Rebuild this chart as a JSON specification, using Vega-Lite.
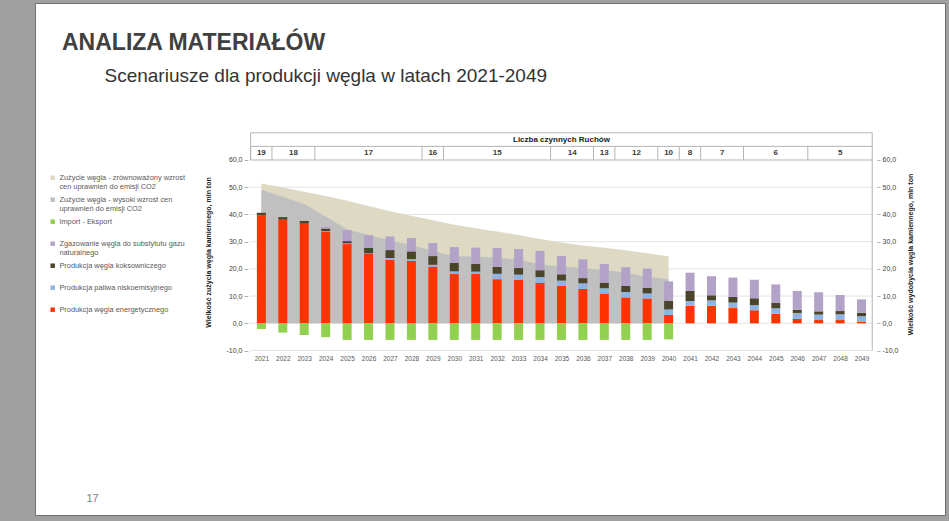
{
  "$schema": "https://vega.github.io/schema/vega-lite/v6.json",
  "width": 910,
  "height": 512,
  "autosize": {"type": "none"},
  "padding": {"left": 35, "top": 3, "right": 4, "bottom": 6},
  "background": "#a0a0a0",
  "config": {
    "font": "Liberation Sans",
    "locale": {"number": {"decimal": ",", "thousands": " ", "grouping": [3], "currency": ["", " zł"], "minus": "-"}},
    "view": {"fill": "white", "stroke": "#6e6e6e", "strokeWidth": 1}
  },
  "title": {
    "text": "ANALIZA MATERIAŁÓW",
    "anchor": "start",
    "frame": "group",
    "dx": 27,
    "offset": -52,
    "fontSize": 23,
    "fontWeight": "bold",
    "color": "#404040",
    "font": "Liberation Sans"
  },
  "datasets": {
    "lata": [
      {"rok": 2021, "ruchy": 19, "1_energetyczny": 39.7, "2_niskoemisyjny": 0.0, "3_koksowniczy": 0.9, "4_zgazowanie": 0.0, "5_import_eksport": -2.1, "6_zuzycie_wysoki": 49.1, "7_zuzycie_zrownowazony": 51.4},
      {"rok": 2022, "ruchy": 18, "1_energetyczny": 38.1, "2_niskoemisyjny": 0.0, "3_koksowniczy": 0.9, "4_zgazowanie": 0.0, "5_import_eksport": -3.4, "6_zuzycie_wysoki": 46.5, "7_zuzycie_zrownowazony": 49.9},
      {"rok": 2023, "ruchy": 18, "1_energetyczny": 36.6, "2_niskoemisyjny": 0.0, "3_koksowniczy": 1.0, "4_zgazowanie": 0.0, "5_import_eksport": -4.3, "6_zuzycie_wysoki": 43.8, "7_zuzycie_zrownowazony": 48.3},
      {"rok": 2024, "ruchy": 17, "1_energetyczny": 33.7, "2_niskoemisyjny": 0.2, "3_koksowniczy": 0.9, "4_zgazowanie": 0.6, "5_import_eksport": -5.1, "6_zuzycie_wysoki": 39.2, "7_zuzycie_zrownowazony": 46.8},
      {"rok": 2025, "ruchy": 17, "1_energetyczny": 29.1, "2_niskoemisyjny": 0.3, "3_koksowniczy": 0.8, "4_zgazowanie": 4.1, "5_import_eksport": -6.1, "6_zuzycie_wysoki": 34.5, "7_zuzycie_zrownowazony": 45.0},
      {"rok": 2026, "ruchy": 17, "1_energetyczny": 25.5, "2_niskoemisyjny": 0.2, "3_koksowniczy": 2.0, "4_zgazowanie": 4.7, "5_import_eksport": -6.1, "6_zuzycie_wysoki": 32.4, "7_zuzycie_zrownowazony": 43.1},
      {"rok": 2027, "ruchy": 17, "1_energetyczny": 23.3, "2_niskoemisyjny": 0.7, "3_koksowniczy": 2.9, "4_zgazowanie": 5.0, "5_import_eksport": -6.1, "6_zuzycie_wysoki": 30.5, "7_zuzycie_zrownowazony": 41.2},
      {"rok": 2028, "ruchy": 17, "1_energetyczny": 22.9, "2_niskoemisyjny": 0.7, "3_koksowniczy": 2.8, "4_zgazowanie": 4.9, "5_import_eksport": -6.1, "6_zuzycie_wysoki": 28.8, "7_zuzycie_zrownowazony": 39.5},
      {"rok": 2029, "ruchy": 16, "1_energetyczny": 20.8, "2_niskoemisyjny": 0.7, "3_koksowniczy": 3.2, "4_zgazowanie": 4.8, "5_import_eksport": -6.1, "6_zuzycie_wysoki": 26.6, "7_zuzycie_zrownowazony": 37.9},
      {"rok": 2030, "ruchy": 15, "1_energetyczny": 18.1, "2_niskoemisyjny": 1.0, "3_koksowniczy": 3.1, "4_zgazowanie": 5.8, "5_import_eksport": -6.1, "6_zuzycie_wysoki": 24.6, "7_zuzycie_zrownowazony": 36.2},
      {"rok": 2031, "ruchy": 15, "1_energetyczny": 18.1, "2_niskoemisyjny": 0.9, "3_koksowniczy": 2.8, "4_zgazowanie": 6.0, "5_import_eksport": -6.1, "6_zuzycie_wysoki": 24.5, "7_zuzycie_zrownowazony": 34.9},
      {"rok": 2032, "ruchy": 15, "1_energetyczny": 16.2, "2_niskoemisyjny": 2.0, "3_koksowniczy": 2.5, "4_zgazowanie": 7.0, "5_import_eksport": -6.1, "6_zuzycie_wysoki": 24.1, "7_zuzycie_zrownowazony": 33.7},
      {"rok": 2033, "ruchy": 15, "1_energetyczny": 15.9, "2_niskoemisyjny": 2.0, "3_koksowniczy": 2.4, "4_zgazowanie": 7.0, "5_import_eksport": -6.1, "6_zuzycie_wysoki": 23.4, "7_zuzycie_zrownowazony": 32.4},
      {"rok": 2034, "ruchy": 15, "1_energetyczny": 14.9, "2_niskoemisyjny": 2.1, "3_koksowniczy": 2.5, "4_zgazowanie": 7.1, "5_import_eksport": -6.1, "6_zuzycie_wysoki": 21.6, "7_zuzycie_zrownowazony": 31.0},
      {"rok": 2035, "ruchy": 14, "1_energetyczny": 13.7, "2_niskoemisyjny": 2.0, "3_koksowniczy": 2.3, "4_zgazowanie": 6.7, "5_import_eksport": -6.1, "6_zuzycie_wysoki": 21.0, "7_zuzycie_zrownowazony": 29.7},
      {"rok": 2036, "ruchy": 14, "1_energetyczny": 12.6, "2_niskoemisyjny": 2.1, "3_koksowniczy": 1.9, "4_zgazowanie": 6.9, "5_import_eksport": -6.1, "6_zuzycie_wysoki": 20.3, "7_zuzycie_zrownowazony": 28.6},
      {"rok": 2037, "ruchy": 13, "1_energetyczny": 10.9, "2_niskoemisyjny": 2.0, "3_koksowniczy": 2.0, "4_zgazowanie": 6.9, "5_import_eksport": -6.1, "6_zuzycie_wysoki": 19.6, "7_zuzycie_zrownowazony": 27.8},
      {"rok": 2038, "ruchy": 12, "1_energetyczny": 9.5, "2_niskoemisyjny": 2.0, "3_koksowniczy": 2.2, "4_zgazowanie": 6.9, "5_import_eksport": -6.1, "6_zuzycie_wysoki": 18.7, "7_zuzycie_zrownowazony": 26.8},
      {"rok": 2039, "ruchy": 12, "1_energetyczny": 9.1, "2_niskoemisyjny": 1.9, "3_koksowniczy": 2.0, "4_zgazowanie": 7.1, "5_import_eksport": -6.1, "6_zuzycie_wysoki": 17.1, "7_zuzycie_zrownowazony": 25.7},
      {"rok": 2040, "ruchy": 10, "1_energetyczny": 3.1, "2_niskoemisyjny": 2.0, "3_koksowniczy": 3.2, "4_zgazowanie": 7.1, "5_import_eksport": -5.9, "6_zuzycie_wysoki": 16.2, "7_zuzycie_zrownowazony": 24.6},
      {"rok": 2041, "ruchy": 8, "1_energetyczny": 6.4, "2_niskoemisyjny": 1.8, "3_koksowniczy": 3.7, "4_zgazowanie": 6.7},
      {"rok": 2042, "ruchy": 7, "1_energetyczny": 6.5, "2_niskoemisyjny": 1.9, "3_koksowniczy": 1.9, "4_zgazowanie": 7.0},
      {"rok": 2043, "ruchy": 7, "1_energetyczny": 5.6, "2_niskoemisyjny": 2.0, "3_koksowniczy": 2.1, "4_zgazowanie": 7.1},
      {"rok": 2044, "ruchy": 6, "1_energetyczny": 4.8, "2_niskoemisyjny": 1.9, "3_koksowniczy": 2.5, "4_zgazowanie": 6.8},
      {"rok": 2045, "ruchy": 6, "1_energetyczny": 3.5, "2_niskoemisyjny": 2.0, "3_koksowniczy": 2.0, "4_zgazowanie": 6.8},
      {"rok": 2046, "ruchy": 6, "1_energetyczny": 1.6, "2_niskoemisyjny": 2.2, "3_koksowniczy": 1.2, "4_zgazowanie": 6.9},
      {"rok": 2047, "ruchy": 5, "1_energetyczny": 1.2, "2_niskoemisyjny": 2.0, "3_koksowniczy": 1.2, "4_zgazowanie": 7.0},
      {"rok": 2048, "ruchy": 5, "1_energetyczny": 1.2, "2_niskoemisyjny": 2.1, "3_koksowniczy": 1.2, "4_zgazowanie": 5.9},
      {"rok": 2049, "ruchy": 5, "1_energetyczny": 0.5, "2_niskoemisyjny": 2.1, "3_koksowniczy": 1.3, "4_zgazowanie": 4.9}
    ],
    "siatka": [{"poziom": -10}, {"poziom": 0}, {"poziom": 10}, {"poziom": 20}, {"poziom": 30}, {"poziom": 40}, {"poziom": 50}],
    "naglowek": [{"poziom": 60}, {"poziom": 65}, {"poziom": 70}]
  },
  "layer": [
    {
      "data": {"name": "siatka"},
      "mark": {"type": "rule", "color": "#e3e3e3", "strokeWidth": 1},
      "encoding": {
        "x": {"datum": 2020.5, "axis": null},
        "x2": {"datum": 2049.5},
        "y": {"field": "poziom", "type": "quantitative", "axis": null}
      }
    },
    {
      "data": {"name": "lata"},
      "transform": [
        {"fold": ["7_zuzycie_zrownowazony"], "as": ["seria", "mln_t"]},
        {"filter": "isValid(datum.mln_t)"}
      ],
      "mark": {"type": "area", "opacity": 1},
      "encoding": {
        "x": {
          "field": "rok", "type": "quantitative",
          "scale": {"domain": [2010.672, 2052.661], "nice": false, "zero": false},
          "axis": {
            "orient": "bottom", "offset": -164,
            "values": [2021, 2022, 2023, 2024, 2025, 2026, 2027, 2028, 2029, 2030, 2031, 2032, 2033, 2034, 2035, 2036, 2037, 2038, 2039, 2040, 2041, 2042, 2043, 2044, 2045, 2046, 2047, 2048, 2049],
            "format": "d", "labelOverlap": false, "labelFlush": false,
            "labelFontSize": 6.5, "labelColor": "#595959", "labelPadding": 4,
            "ticks": false, "domain": false, "grid": false,
            "title": "17", "titleX": 51, "titleY": 147, "titleAlign": "left", "titleBaseline": "middle",
            "titleAngle": 0, "titleFontSize": 11, "titleFontWeight": "normal", "titleColor": "#808080"
          }
        },
        "y": {
          "field": "mln_t", "type": "quantitative", "stack": null,
          "scale": {"domain": [-70.43, 117.68], "nice": false, "zero": false},
          "axis": {
            "orient": "left", "offset": -213,
            "values": [-10, 0, 10, 20, 30, 40, 50, 60], "format": ".1f",
            "labelFontSize": 7, "labelColor": "#404040", "labelPadding": 2,
            "tickSize": 4, "tickColor": "#b0b0b0", "domain": false, "grid": false,
            "title": "Wielkość zużycia węgla kamiennego, mln ton",
            "titleX": -40, "titleY": 249, "titleAngle": -90, "titleAlign": "center", "titleBaseline": "middle",
            "titleFontSize": 7, "titleFontWeight": "bold", "titleColor": "#202020"
          }
        },
        "color": {
          "field": "seria", "type": "nominal",
          "scale": {
            "domain": ["7_zuzycie_zrownowazony", "6_zuzycie_wysoki", "5_import_eksport", "4_zgazowanie", "3_koksowniczy", "2_niskoemisyjny", "1_energetyczny"],
            "range": ["#ddd9c3", "#c0c0c0", "#92d050", "#b3a2c7", "#4a452a", "#8eb4e3", "#ff3300"]
          },
          "legend": {
            "orient": "none", "legendX": 14, "legendY": 171, "title": null,
            "symbolType": "square", "symbolSize": 20, "symbolStrokeWidth": 0, "symbolOpacity": 1,
            "labelFontSize": 7.4, "labelColor": "#595959", "labelOffset": 3, "labelLimit": 300,
            "gridAlign": "all", "rowPadding": 4,
            "labelExpr": "datum.value == '7_zuzycie_zrownowazony' ? ['Zużycie węgla - zrównoważony wzrost', 'cen uprawnień do emisji CO2'] : datum.value == '6_zuzycie_wysoki' ? ['Zużycie węgla - wysoki wzrost cen', 'uprawnień do emisji CO2'] : datum.value == '5_import_eksport' ? 'Import - Eksport' : datum.value == '4_zgazowanie' ? ['Zgazowanie węgla do substytutu gazu', 'naturalnego'] : datum.value == '3_koksowniczy' ? 'Produkcja węgla koksowniczego' : datum.value == '2_niskoemisyjny' ? 'Produkcja paliwa niskoemisyjnego' : 'Produkcja węgla energetycznego'"
          }
        }
      }
    },
    {
      "data": {"name": "lata"},
      "transform": [
        {"fold": ["6_zuzycie_wysoki"], "as": ["seria", "mln_t"]},
        {"filter": "isValid(datum.mln_t)"}
      ],
      "mark": {"type": "area", "opacity": 1},
      "encoding": {
        "x": {"field": "rok", "type": "quantitative", "axis": null},
        "y": {"field": "mln_t", "type": "quantitative", "stack": null, "axis": null},
        "color": {"field": "seria", "type": "nominal"}
      }
    },
    {
      "data": {"name": "lata"},
      "transform": [
        {"fold": ["1_energetyczny", "2_niskoemisyjny", "3_koksowniczy", "4_zgazowanie", "5_import_eksport"], "as": ["seria", "mln_t"]},
        {"filter": "isValid(datum.mln_t)"}
      ],
      "mark": {"type": "bar", "width": 9},
      "encoding": {
        "x": {"field": "rok", "type": "quantitative", "axis": null},
        "y": {
          "field": "mln_t", "type": "quantitative", "stack": "zero",
          "axis": {
            "orient": "right", "offset": -68,
            "values": [-10, 0, 10, 20, 30, 40, 50, 60], "format": ".1f",
            "labelFontSize": 7, "labelColor": "#404040", "labelPadding": 2,
            "tickSize": 3, "tickColor": "#b0b0b0", "domain": false, "grid": false,
            "title": "Wielkość wydobycia węgla kamiennego, mln ton",
            "titleX": 33, "titleY": 251, "titleAngle": -90, "titleAlign": "center", "titleBaseline": "middle",
            "titleFontSize": 7, "titleFontWeight": "bold", "titleColor": "#202020"
          }
        },
        "color": {"field": "seria", "type": "nominal"},
        "order": {"field": "seria", "sort": "ascending"}
      }
    },
    {
      "data": {"name": "naglowek"},
      "mark": {"type": "rule", "color": "#b4b4b4", "strokeWidth": 1},
      "encoding": {
        "x": {"datum": 2020.5, "axis": null},
        "x2": {"datum": 2049.5},
        "y": {"field": "poziom", "type": "quantitative", "axis": null}
      }
    },
    {
      "data": {"values": [{}]},
      "mark": {"type": "rule", "color": "#b4b4b4", "strokeWidth": 1},
      "encoding": {
        "x": {"datum": 2020.5, "axis": null},
        "y": {"datum": 60, "axis": null},
        "y2": {"datum": 70}
      }
    },
    {
      "data": {"values": [{}]},
      "mark": {"type": "rule", "color": "#b4b4b4", "strokeWidth": 1},
      "encoding": {
        "x": {"datum": 2049.5, "axis": null},
        "y": {"datum": -10, "axis": null},
        "y2": {"datum": 70}
      }
    },
    {
      "data": {"name": "lata"},
      "transform": [
        {"aggregate": [{"op": "min", "field": "rok", "as": "od"}], "groupby": ["ruchy"]}
      ],
      "mark": {"type": "rule", "color": "#b4b4b4", "strokeWidth": 1, "xOffset": -10.84},
      "encoding": {
        "x": {"field": "od", "type": "quantitative", "axis": null},
        "y": {"datum": 60, "axis": null},
        "y2": {"datum": 65}
      }
    },
    {
      "data": {"name": "lata"},
      "transform": [
        {"aggregate": [{"op": "mean", "field": "rok", "as": "srodek"}], "groupby": ["ruchy"]}
      ],
      "mark": {"type": "text", "fontSize": 8, "fontWeight": "bold", "color": "#3a3a3a", "baseline": "middle", "align": "center"},
      "encoding": {
        "x": {
          "field": "srodek", "type": "quantitative",
          "axis": {
            "orient": "top", "labels": false, "ticks": false, "domain": false, "grid": false,
            "title": "Scenariusze dla produkcji węgla w latach 2021-2049",
            "titleX": 69, "titleY": 78, "titleAlign": "left", "titleAnchor": "start", "titleBaseline": "alphabetic",
            "titleAngle": 0, "titleFontSize": 19, "titleFontWeight": "normal", "titleColor": "#333333"
          }
        },
        "y": {"datum": 62.5, "axis": null},
        "text": {"field": "ruchy", "type": "quantitative"}
      }
    },
    {
      "data": {"values": [{}]},
      "mark": {"type": "text", "text": "Liczba czynnych Ruchów", "fontSize": 8, "fontWeight": "bold", "color": "#202020", "baseline": "middle", "align": "center"},
      "encoding": {
        "x": {"datum": 2035, "axis": null},
        "y": {"datum": 67.5, "axis": null}
      }
    }
  ],
  "resolve": {"axis": {"x": "independent", "y": "independent"}}
}
